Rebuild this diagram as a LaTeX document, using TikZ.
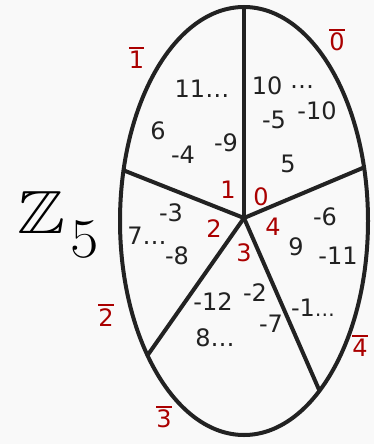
\documentclass[tikz,border=0pt]{standalone}
\usepackage{amssymb}
\usepackage{graphicx}
\usepackage{fontspec}
\newfontfamily\dv{DejaVu Sans}
\definecolor{ink}{HTML}{222222}
\definecolor{lbl}{HTML}{AA0000}
\definecolor{bg}{HTML}{F9F9F9}
\newcommand\ob[1]{\vbox{\hrule height 1.8pt\kern 2.5pt\hbox{#1}}}
\begin{document}
\begin{tikzpicture}[x=1pt,y=-1pt,
  num/.style={inner sep=0, text=ink, font=\dv\fontsize{24}{24}\selectfont},
  cls/.style={inner sep=0, text=lbl, font=\dv\fontsize{24}{24}\selectfont},
  edge/.style={draw=ink, line width=4pt}]
\fill[bg] (0,0) rectangle (374,444);
\useasboundingbox (0,0) rectangle (374,444);
% ellipse and spokes
\draw[edge] (244,221) ellipse [x radius=124, y radius=214];
\coordinate (hub) at (244,218);
\coordinate (e0) at (244,7);
\coordinate (e1) at ({244+124*cos(14.5)},{221-214*sin(14.5)});
\coordinate (e2) at ({244+124*cos(-52.5)},{221-214*sin(-52.5)});
\coordinate (e3) at ({244+124*cos(218.9)},{221-214*sin(218.9)});
\coordinate (e4) at ({244+124*cos(166.3)},{221-214*sin(166.3)});
\draw[edge] (hub) -- (e0);
\draw[edge] (hub) -- (e1);
\draw[edge] (hub) -- (e2);
\draw[edge] (hub) -- (e3);
\draw[edge] (hub) -- (e4);
% Z_5
\node[inner sep=0, anchor=base, text=black, font=\fontsize{61}{61}\selectfont] (zz) at (41,233) {\scalebox{1.18}[1]{$\mathbb{Z}$}};
\node[inner sep=0, anchor=base, text=black, font=\fontsize{56}{56}\selectfont] (zf) at (85,257) {\scalebox{1.1}[1]{5}};
% class labels
\node[cls] (c0) at (337,40) {\ob{0}};
\node[cls] (c1) at (136.5,58) {\ob{1}};
\node[cls] (c2) at (106,315) {\ob{2}};
\node[cls] (c3) at (164,417) {\ob{3}};
\node[cls] (c4) at (360,346) {\ob{4}};
% residues near hub
\node[cls] (r1) at (228,190) {1};
\node[cls] (r0) at (261,197) {0};
\node[cls] (r2) at (214,229) {2};
\node[cls] (r4) at (273,227) {4};
\node[cls] (r3) at (244,253) {3};
% sector 0
\node[num] (a1) at (283,86) {10 ⋯};
\node[num] (a2) at (317,111) {-10};
\node[num] (a3) at (274,120) {-5};
\node[num] (a4) at (288,164) {5};
% sector 1
\node[num] (b1) at (202,89) {11…};
\node[num] (b2) at (158,131) {6};
\node[num] (b3) at (226,143) {-9};
\node[num] (b4) at (183,155) {-4};
% sector 2
\node[num] (d1) at (171,213) {-3};
\node[num] (d2) at (147,236) {7…};
\node[num] (d3) at (177,256) {-8};
% sector 4
\node[num] (f1) at (325,217) {-6};
\node[num] (f2) at (296,247) {9};
\node[num] (f3) at (338,256) {-11};
\node[num] (f4) at (313,308) {-1{\fontsize{20}{20}\selectfont…}};
% sector 3
\node[num] (g1) at (213,302) {-12};
\node[num] (g2) at (255,293) {-2};
\node[num] (g3) at (271,324) {-7};
\node[num] (g4) at (215,338) {8…};
\end{tikzpicture}
\end{document}
